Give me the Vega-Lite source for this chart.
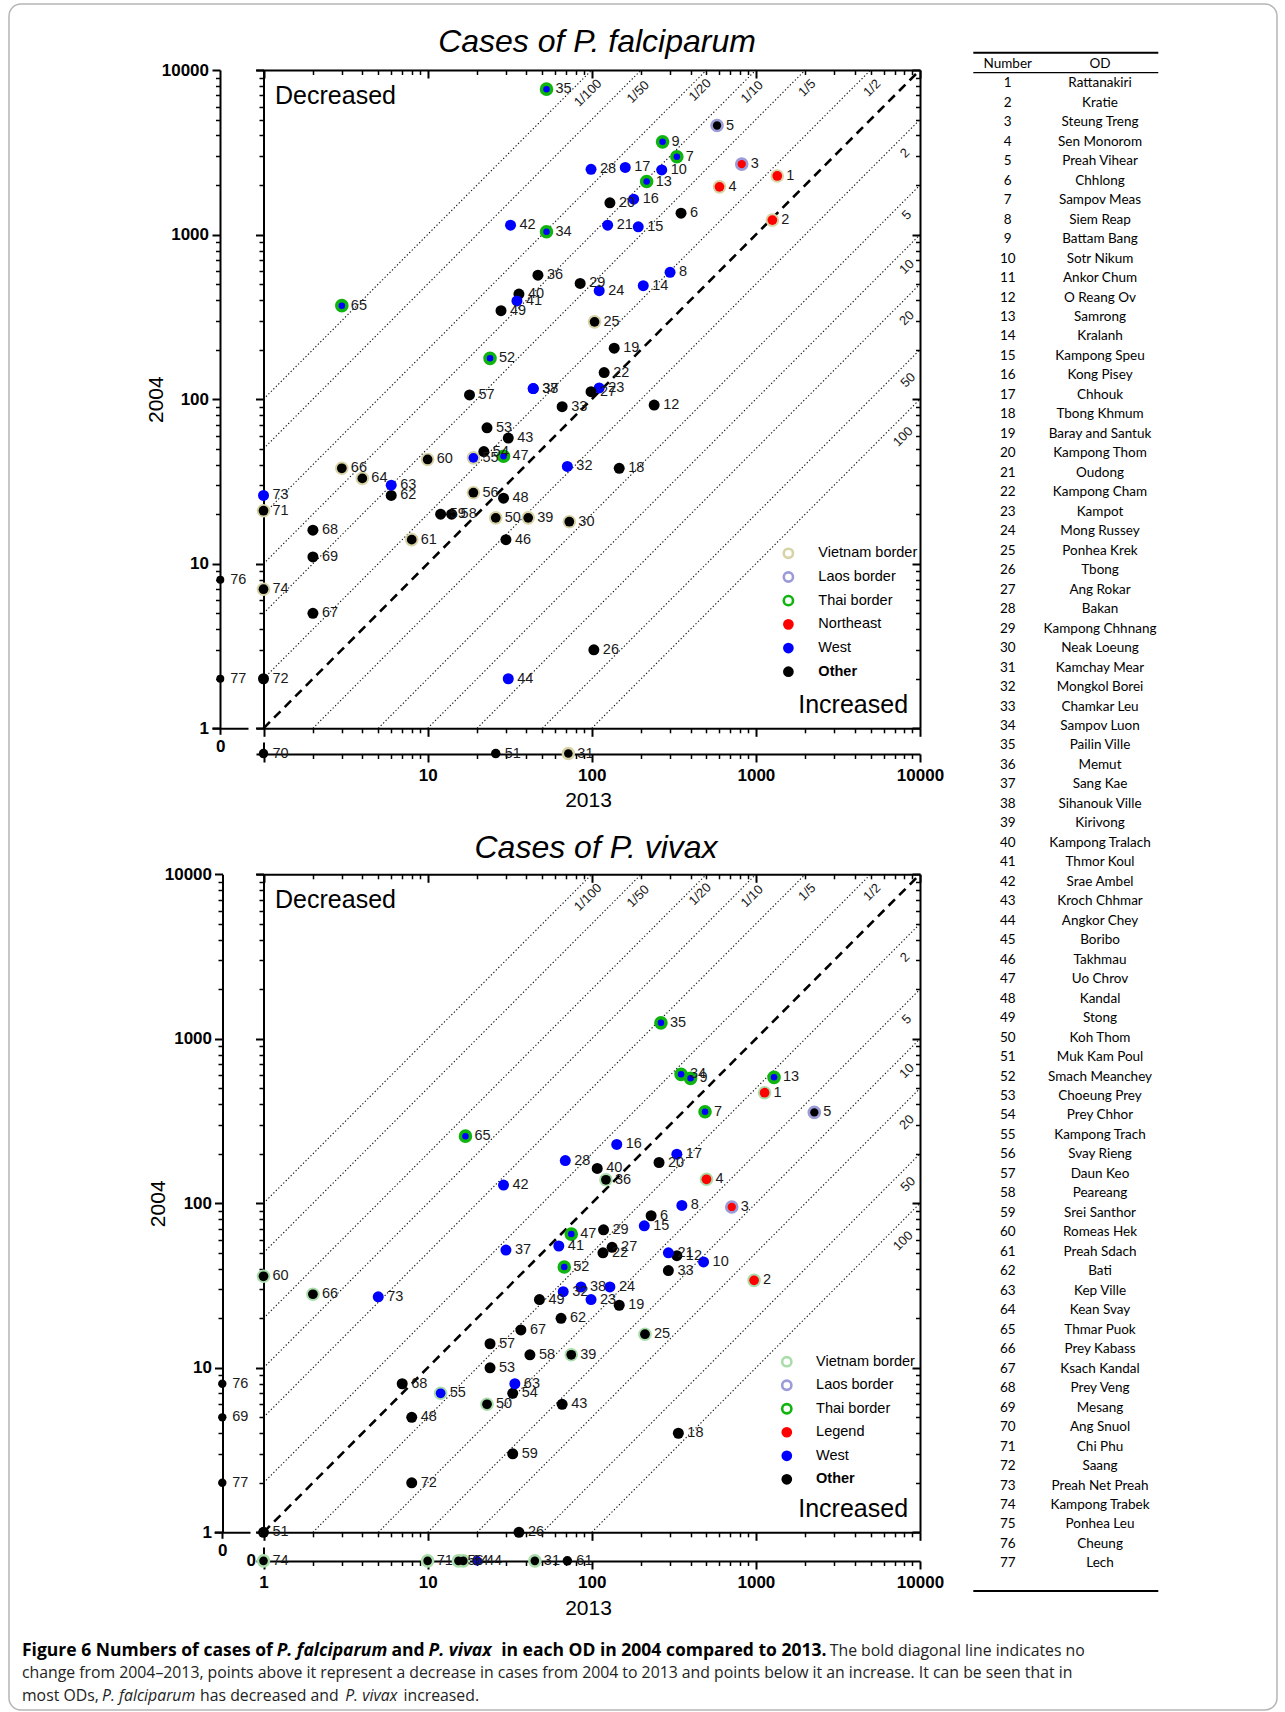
{
"$schema": "https://vega.github.io/schema/vega-lite/v6.json",
"width": 1268, "height": 1706,
"autosize": {"type": "none"},
"padding": {"left": 9, "top": 4, "right": 8, "bottom": 2},
"background": "white",
"config": {
  "view": {"stroke": "#b5b5b5", "strokeWidth": 1.5, "cornerRadius": 12},
  "font": "Liberation Sans",
  "axis": {"domainColor": "#000", "tickColor": "#000", "labelColor": "#000", "titleColor": "#000", "grid": false, "domainWidth": 2, "tickWidth": 2, "labelFont": "Liberation Sans", "labelFontSize": 17, "labelFontWeight": "bold", "titleFont": "Liberation Sans", "titleFontSize": 21, "titleFontWeight": "normal", "labelFlush": false, "labelOverlap": false, "labels": false, "tickSize": 8}
},
"resolve": {"scale": {"x": "independent", "y": "independent", "color": "independent", "size": "independent"}, "axis": {"x": "independent", "y": "independent"}},
"datasets": {
  "pf": [
    {"id":1,"c2013":1350,"c2004":2270,"group":"Northeast","border":"Vietnam border"},
    {"id":2,"c2013":1260,"c2004":1225,"group":"Northeast","border":"Vietnam border"},
    {"id":3,"c2013":820,"c2004":2680,"group":"Northeast","border":"Laos border"},
    {"id":4,"c2013":600,"c2004":1950,"group":"Northeast","border":"Vietnam border"},
    {"id":5,"c2013":580,"c2004":4600,"group":"Other","border":"Laos border"},
    {"id":6,"c2013":350,"c2004":1350,"group":"Other","border":"none"},
    {"id":7,"c2013":330,"c2004":2970,"group":"West","border":"Thai border"},
    {"id":8,"c2013":300,"c2004":590,"group":"West","border":"none"},
    {"id":9,"c2013":270,"c2004":3660,"group":"West","border":"Thai border"},
    {"id":10,"c2013":267,"c2004":2470,"group":"West","border":"none"},
    {"id":12,"c2013":240,"c2004":92,"group":"Other","border":"none"},
    {"id":13,"c2013":216,"c2004":2100,"group":"West","border":"Thai border"},
    {"id":14,"c2013":206,"c2004":489,"group":"West","border":"none"},
    {"id":15,"c2013":192,"c2004":1115,"group":"West","border":"none"},
    {"id":16,"c2013":180,"c2004":1640,"group":"West","border":"none"},
    {"id":17,"c2013":160,"c2004":2560,"group":"West","border":"none"},
    {"id":18,"c2013":147,"c2004":38,"group":"Other","border":"none"},
    {"id":19,"c2013":137,"c2004":204,"group":"Other","border":"none"},
    {"id":20,"c2013":129,"c2004":1560,"group":"Other","border":"none"},
    {"id":21,"c2013":125,"c2004":1140,"group":"West","border":"none"},
    {"id":22,"c2013":119,"c2004":145,"group":"Other","border":"none"},
    {"id":23,"c2013":111,"c2004":117,"group":"West","border":"none"},
    {"id":24,"c2013":111,"c2004":456,"group":"West","border":"none"},
    {"id":25,"c2013":104,"c2004":295,"group":"Other","border":"Vietnam border"},
    {"id":26,"c2013":103,"c2004":3,"group":"Other","border":"none"},
    {"id":27,"c2013":99,"c2004":111,"group":"Other","border":"none"},
    {"id":28,"c2013":99,"c2004":2490,"group":"West","border":"none"},
    {"id":29,"c2013":85,"c2004":505,"group":"Other","border":"none"},
    {"id":30,"c2013":73,"c2004":18,"group":"Other","border":"Vietnam border"},
    {"id":31,"c2013":72,"c2004":0,"group":"Other","border":"Vietnam border"},
    {"id":32,"c2013":71,"c2004":39,"group":"West","border":"none"},
    {"id":33,"c2013":66,"c2004":90,"group":"Other","border":"none"},
    {"id":34,"c2013":53,"c2004":1040,"group":"West","border":"Thai border"},
    {"id":35,"c2013":53,"c2004":7650,"group":"West","border":"Thai border"},
    {"id":36,"c2013":47,"c2004":567,"group":"Other","border":"none"},
    {"id":37,"c2013":44,"c2004":116,"group":"West","border":"none"},
    {"id":38,"c2013":44,"c2004":116,"group":"West","border":"none"},
    {"id":39,"c2013":41,"c2004":19,"group":"Other","border":"Vietnam border"},
    {"id":40,"c2013":36,"c2004":435,"group":"Other","border":"none"},
    {"id":41,"c2013":35,"c2004":395,"group":"West","border":"none"},
    {"id":42,"c2013":32,"c2004":1140,"group":"West","border":"none"},
    {"id":43,"c2013":31,"c2004":58,"group":"Other","border":"none"},
    {"id":44,"c2013":31,"c2004":2,"group":"West","border":"none"},
    {"id":46,"c2013":30,"c2004":14,"group":"Other","border":"none"},
    {"id":47,"c2013":29,"c2004":45,"group":"West","border":"Thai border"},
    {"id":48,"c2013":29,"c2004":25,"group":"Other","border":"none"},
    {"id":49,"c2013":28,"c2004":345,"group":"Other","border":"none"},
    {"id":50,"c2013":26,"c2004":19,"group":"Other","border":"Vietnam border"},
    {"id":51,"c2013":26,"c2004":0,"group":"Other","border":"none"},
    {"id":52,"c2013":24,"c2004":177,"group":"West","border":"Thai border"},
    {"id":53,"c2013":23,"c2004":67,"group":"Other","border":"none"},
    {"id":54,"c2013":22,"c2004":48,"group":"Other","border":"none"},
    {"id":55,"c2013":19,"c2004":44,"group":"West","border":"Vietnam border"},
    {"id":56,"c2013":19,"c2004":27,"group":"Other","border":"Vietnam border"},
    {"id":57,"c2013":18,"c2004":106,"group":"Other","border":"none"},
    {"id":58,"c2013":14,"c2004":20,"group":"Other","border":"none"},
    {"id":59,"c2013":12,"c2004":20,"group":"Other","border":"none"},
    {"id":60,"c2013":10,"c2004":43,"group":"Other","border":"Vietnam border"},
    {"id":61,"c2013":8,"c2004":14,"group":"Other","border":"Vietnam border"},
    {"id":62,"c2013":6,"c2004":26,"group":"Other","border":"none"},
    {"id":63,"c2013":6,"c2004":30,"group":"West","border":"none"},
    {"id":64,"c2013":4,"c2004":33,"group":"Other","border":"Vietnam border"},
    {"id":65,"c2013":3,"c2004":370,"group":"West","border":"Thai border"},
    {"id":66,"c2013":3,"c2004":38,"group":"Other","border":"Vietnam border"},
    {"id":67,"c2013":2,"c2004":5,"group":"Other","border":"none"},
    {"id":68,"c2013":2,"c2004":16,"group":"Other","border":"none"},
    {"id":69,"c2013":2,"c2004":11,"group":"Other","border":"none"},
    {"id":70,"c2013":1,"c2004":0,"group":"Other","border":"none"},
    {"id":71,"c2013":1,"c2004":21,"group":"Other","border":"Vietnam border"},
    {"id":72,"c2013":1,"c2004":2,"group":"Other","border":"none"},
    {"id":73,"c2013":1,"c2004":26,"group":"West","border":"none"},
    {"id":74,"c2013":1,"c2004":7,"group":"Other","border":"Vietnam border"},
    {"id":76,"c2013":0,"c2004":8,"group":"Other","border":"none"},
    {"id":77,"c2013":0,"c2004":2,"group":"Other","border":"none"}
  ],
  "pv": [
    {"id":1,"c2013":1130,"c2004":470,"group":"Northeast","border":"Vietnam border"},
    {"id":2,"c2013":975,"c2004":34,"group":"Northeast","border":"Vietnam border"},
    {"id":3,"c2013":713,"c2004":95,"group":"Northeast","border":"Laos border"},
    {"id":4,"c2013":500,"c2004":140,"group":"Northeast","border":"Vietnam border"},
    {"id":5,"c2013":2270,"c2004":357,"group":"Other","border":"Laos border"},
    {"id":6,"c2013":230,"c2004":84,"group":"Other","border":"none"},
    {"id":7,"c2013":490,"c2004":360,"group":"West","border":"Thai border"},
    {"id":8,"c2013":354,"c2004":97,"group":"West","border":"none"},
    {"id":9,"c2013":400,"c2004":575,"group":"West","border":"Thai border"},
    {"id":10,"c2013":480,"c2004":44,"group":"West","border":"none"},
    {"id":12,"c2013":330,"c2004":48,"group":"Other","border":"none"},
    {"id":13,"c2013":1290,"c2004":583,"group":"West","border":"Thai border"},
    {"id":15,"c2013":209,"c2004":73,"group":"West","border":"none"},
    {"id":16,"c2013":142,"c2004":228,"group":"West","border":"none"},
    {"id":17,"c2013":330,"c2004":199,"group":"West","border":"none"},
    {"id":18,"c2013":337,"c2004":4,"group":"Other","border":"none"},
    {"id":19,"c2013":147,"c2004":24,"group":"Other","border":"none"},
    {"id":20,"c2013":257,"c2004":177,"group":"Other","border":"none"},
    {"id":21,"c2013":293,"c2004":50,"group":"West","border":"none"},
    {"id":22,"c2013":117,"c2004":50,"group":"Other","border":"none"},
    {"id":23,"c2013":99,"c2004":26,"group":"West","border":"none"},
    {"id":24,"c2013":129,"c2004":31,"group":"West","border":"none"},
    {"id":25,"c2013":211,"c2004":16,"group":"Other","border":"Vietnam border"},
    {"id":26,"c2013":36,"c2004":1,"group":"Other","border":"none"},
    {"id":27,"c2013":133,"c2004":54,"group":"Other","border":"none"},
    {"id":28,"c2013":69,"c2004":182,"group":"West","border":"none"},
    {"id":29,"c2013":118,"c2004":69,"group":"Other","border":"none"},
    {"id":31,"c2013":45,"c2004":0,"group":"Other","border":"Vietnam border"},
    {"id":32,"c2013":67,"c2004":29,"group":"West","border":"none"},
    {"id":33,"c2013":293,"c2004":39,"group":"Other","border":"none"},
    {"id":34,"c2013":350,"c2004":608,"group":"West","border":"Thai border"},
    {"id":35,"c2013":264,"c2004":1250,"group":"West","border":"Thai border"},
    {"id":36,"c2013":122,"c2004":139,"group":"Other","border":"Vietnam border"},
    {"id":37,"c2013":30,"c2004":52,"group":"West","border":"none"},
    {"id":38,"c2013":86,"c2004":31,"group":"West","border":"none"},
    {"id":39,"c2013":75,"c2004":12,"group":"Other","border":"Vietnam border"},
    {"id":40,"c2013":108,"c2004":163,"group":"Other","border":"none"},
    {"id":41,"c2013":63,"c2004":55,"group":"West","border":"none"},
    {"id":42,"c2013":29,"c2004":129,"group":"West","border":"none"},
    {"id":43,"c2013":66,"c2004":6,"group":"Other","border":"none"},
    {"id":44,"c2013":20,"c2004":0,"group":"West","border":"none"},
    {"id":47,"c2013":75,"c2004":65,"group":"West","border":"Thai border"},
    {"id":48,"c2013":8,"c2004":5,"group":"Other","border":"none"},
    {"id":49,"c2013":48,"c2004":26,"group":"Other","border":"none"},
    {"id":50,"c2013":23,"c2004":6,"group":"Other","border":"Vietnam border"},
    {"id":51,"c2013":1,"c2004":1,"group":"Other","border":"none"},
    {"id":52,"c2013":68,"c2004":41,"group":"West","border":"Thai border"},
    {"id":53,"c2013":24,"c2004":10,"group":"Other","border":"none"},
    {"id":54,"c2013":33,"c2004":7,"group":"Other","border":"none"},
    {"id":55,"c2013":12,"c2004":7,"group":"West","border":"Vietnam border"},
    {"id":56,"c2013":15.4,"c2004":0,"group":"Other","border":"Vietnam border"},
    {"id":57,"c2013":24,"c2004":14,"group":"Other","border":"none"},
    {"id":58,"c2013":42,"c2004":12,"group":"Other","border":"none"},
    {"id":59,"c2013":33,"c2004":3,"group":"Other","border":"none"},
    {"id":60,"c2013":1,"c2004":36,"group":"Other","border":"Vietnam border"},
    {"id":61,"c2013":71,"c2004":0,"group":"Other","border":"none"},
    {"id":62,"c2013":65,"c2004":20,"group":"Other","border":"none"},
    {"id":63,"c2013":34,"c2004":8,"group":"West","border":"none"},
    {"id":64,"c2013":16.5,"c2004":0,"group":"Other","border":"Vietnam border"},
    {"id":65,"c2013":17,"c2004":256,"group":"West","border":"Thai border"},
    {"id":66,"c2013":2,"c2004":28,"group":"Other","border":"Vietnam border"},
    {"id":67,"c2013":37,"c2004":17,"group":"Other","border":"none"},
    {"id":68,"c2013":7,"c2004":8,"group":"Other","border":"none"},
    {"id":69,"c2013":0,"c2004":5,"group":"Other","border":"none"},
    {"id":71,"c2013":10,"c2004":0,"group":"Other","border":"Vietnam border"},
    {"id":72,"c2013":8,"c2004":2,"group":"Other","border":"none"},
    {"id":73,"c2013":5,"c2004":27,"group":"West","border":"none"},
    {"id":74,"c2013":1,"c2004":0,"group":"Other","border":"Vietnam border"},
    {"id":76,"c2013":0,"c2004":8,"group":"Other","border":"none"},
    {"id":77,"c2013":0,"c2004":2,"group":"Other","border":"none"}
  ],
  "ratios": [
    {"k":"100","x1":1,"y1":100,"x2":100,"y2":10000},
    {"k":"50","x1":1,"y1":50,"x2":200,"y2":10000},
    {"k":"20","x1":1,"y1":20,"x2":500,"y2":10000},
    {"k":"10","x1":1,"y1":10,"x2":1000,"y2":10000},
    {"k":"5","x1":1,"y1":5,"x2":2000,"y2":10000},
    {"k":"2","x1":1,"y1":2,"x2":5000,"y2":10000},
    {"k":"1/2","x1":2,"y1":1,"x2":10000,"y2":5000},
    {"k":"1/5","x1":5,"y1":1,"x2":10000,"y2":2000},
    {"k":"1/10","x1":10,"y1":1,"x2":10000,"y2":1000},
    {"k":"1/20","x1":20,"y1":1,"x2":10000,"y2":500},
    {"k":"1/50","x1":50,"y1":1,"x2":10000,"y2":200},
    {"k":"1/100","x1":100,"y1":1,"x2":10000,"y2":100}
  ],
  "rlabels": [
    {"t":"1/100","x":94.9,"y":7244},
    {"t":"1/50","x":191.6,"y":7350},
    {"t":"1/20","x":457,"y":7555},
    {"t":"1/10","x":948,"y":7350},
    {"t":"1/5","x":2052,"y":7770},
    {"t":"1/2","x":5108,"y":7770},
    {"t":"2","x":8110,"y":3126},
    {"t":"5","x":8310,"y":1312},
    {"t":"10","x":8310,"y":637},
    {"t":"20","x":8310,"y":311},
    {"t":"50","x":8463,"y":130.6},
    {"t":"100","x":7886,"y":59.1}
  ],
  "legT": [
    {"label":"Vietnam border","kind":"ring"},
    {"label":"Laos border","kind":"ring"},
    {"label":"Thai border","kind":"ring"},
    {"label":"Northeast","kind":"fill"},
    {"label":"West","kind":"fill"},
    {"label":"Other","kind":"fill"}
  ],
  "legB": [
    {"label":"Vietnam border","kind":"ring"},
    {"label":"Laos border","kind":"ring"},
    {"label":"Thai border","kind":"ring"},
    {"label":"Legend","kind":"fill"},
    {"label":"West","kind":"fill"},
    {"label":"Other","kind":"fill"}
  ],
  "od": [
    {"n":1,"name":"Rattanakiri"},{"n":2,"name":"Kratie"},{"n":3,"name":"Steung Treng"},{"n":4,"name":"Sen Monorom"},
    {"n":5,"name":"Preah Vihear"},{"n":6,"name":"Chhlong"},{"n":7,"name":"Sampov Meas"},{"n":8,"name":"Siem Reap"},
    {"n":9,"name":"Battam Bang"},{"n":10,"name":"Sotr Nikum"},{"n":11,"name":"Ankor Chum"},{"n":12,"name":"O Reang Ov"},
    {"n":13,"name":"Samrong"},{"n":14,"name":"Kralanh"},{"n":15,"name":"Kampong Speu"},{"n":16,"name":"Kong Pisey"},
    {"n":17,"name":"Chhouk"},{"n":18,"name":"Tbong Khmum"},{"n":19,"name":"Baray and Santuk"},{"n":20,"name":"Kampong Thom"},
    {"n":21,"name":"Oudong"},{"n":22,"name":"Kampong Cham"},{"n":23,"name":"Kampot"},{"n":24,"name":"Mong Russey"},
    {"n":25,"name":"Ponhea Krek"},{"n":26,"name":"Tbong"},{"n":27,"name":"Ang Rokar"},{"n":28,"name":"Bakan"},
    {"n":29,"name":"Kampong Chhnang"},{"n":30,"name":"Neak Loeung"},{"n":31,"name":"Kamchay Mear"},{"n":32,"name":"Mongkol Borei"},
    {"n":33,"name":"Chamkar Leu"},{"n":34,"name":"Sampov Luon"},{"n":35,"name":"Pailin Ville"},{"n":36,"name":"Memut"},
    {"n":37,"name":"Sang Kae"},{"n":38,"name":"Sihanouk Ville"},{"n":39,"name":"Kirivong"},{"n":40,"name":"Kampong Tralach"},
    {"n":41,"name":"Thmor Koul"},{"n":42,"name":"Srae Ambel"},{"n":43,"name":"Kroch Chhmar"},{"n":44,"name":"Angkor Chey"},
    {"n":45,"name":"Boribo"},{"n":46,"name":"Takhmau"},{"n":47,"name":"Uo Chrov"},{"n":48,"name":"Kandal"},
    {"n":49,"name":"Stong"},{"n":50,"name":"Koh Thom"},{"n":51,"name":"Muk Kam Poul"},{"n":52,"name":"Smach Meanchey"},
    {"n":53,"name":"Choeung Prey"},{"n":54,"name":"Prey Chhor"},{"n":55,"name":"Kampong Trach"},{"n":56,"name":"Svay Rieng"},
    {"n":57,"name":"Daun Keo"},{"n":58,"name":"Peareang"},{"n":59,"name":"Srei Santhor"},{"n":60,"name":"Romeas Hek"},
    {"n":61,"name":"Preah Sdach"},{"n":62,"name":"Bati"},{"n":63,"name":"Kep Ville"},{"n":64,"name":"Kean Svay"},
    {"n":65,"name":"Thmar Puok"},{"n":66,"name":"Prey Kabass"},{"n":67,"name":"Ksach Kandal"},{"n":68,"name":"Prey Veng"},
    {"n":69,"name":"Mesang"},{"n":70,"name":"Ang Snuol"},{"n":71,"name":"Chi Phu"},{"n":72,"name":"Saang"},
    {"n":73,"name":"Preah Net Preah"},{"n":74,"name":"Kampong Trabek"},{"n":75,"name":"Ponhea Leu"},{"n":76,"name":"Cheung"},
    {"n":77,"name":"Lech"}
  ],
  "capBold": [
    {"t":"Figure 6 Numbers of cases of","col":0,"line":1},
    {"t":"and","col":41.94,"line":1},
    {"t":"in each OD in 2004 compared to 2013.","col":54.4,"line":1}
  ],
  "capBoldItalic": [
    {"t":"P. falciparum","col":28.91,"line":1},
    {"t":"P. vivax","col":46.15,"line":1}
  ],
  "capNormal": [
    {"t":"The bold diagonal line indicates no","col":91.7,"line":1},
    {"t":"change from 2004–2013, points above it represent a decrease in cases from 2004 to 2013 and points below it an increase. It can be seen that in","col":0,"line":2},
    {"t":"most ODs,","col":0,"line":3},
    {"t":"has decreased and","col":20.22,"line":3},
    {"t":"increased.","col":43.31,"line":3}
  ],
  "capItalic": [
    {"t":"P. falciparum","col":9.09,"line":3},
    {"t":"P. vivax","col":36.69,"line":3}
  ]
},
"layer": [
  {"data":{"name":"ratios"},"mark":{"type":"rule","strokeDash":[1.3,2.2],"strokeWidth":1.1,"color":"#111"},
   "encoding":{
     "x":{"field":"x1","type":"quantitative","scale":{"type":"log","domain":[0.9,10000],"range":[247,911],"nice":false},"axis":{"orient":"bottom","offset":-1640,"values":[1,10,100,1000,10000],"title":null}},
     "y":{"field":"y1","type":"quantitative","scale":{"type":"log","domain":[1,10000],"range":[724.3,66],"nice":false},"axis":{"orient":"left","offset":-911,"values":[1,10,100,1000,10000],"title":null}},
     "x2":{"field":"x2"},"y2":{"field":"y2"}}},
  {"data":{"values":[{"x1":1,"y1":1,"x2":10000,"y2":10000}]},"mark":{"type":"rule","strokeDash":[9,6],"strokeWidth":2.6,"color":"#000"},
   "encoding":{
     "x":{"field":"x1","type":"quantitative","scale":{"type":"log","domain":[0.9,10000],"range":[247,911],"nice":false},"axis":{"orient":"bottom","offset":-1640,"values":[2,3,4,5,6,7,8,9,20,30,40,50,60,70,80,90,200,300,400,500,600,700,800,900,2000,3000,4000,5000,6000,7000,8000,9000],"tickSize":4.5,"tickWidth":1.5,"domain":false,"title":null}},
     "y":{"field":"y1","type":"quantitative","scale":{"type":"log","domain":[1,10000],"range":[724.3,66],"nice":false},"axis":{"orient":"left","offset":-911,"values":[2,3,4,5,6,7,8,9,20,30,40,50,60,70,80,90,200,300,400,500,600,700,800,900,2000,3000,4000,5000,6000,7000,8000,9000],"tickSize":4.5,"tickWidth":1.5,"domain":false,"title":null}},
     "x2":{"field":"x2"},"y2":{"field":"y2"}}},
  {"data":{"name":"pf"},"transform":[{"filter":"datum.c2013 > 0 && datum.c2004 > 0 && datum.border != 'none'"}],
   "mark":{"type":"point","filled":true,"size":185,"opacity":1,"strokeWidth":0},
   "encoding":{
     "x":{"field":"c2013","type":"quantitative","scale":{"type":"log","domain":[0.9,10000],"range":[247,911],"nice":false},"axis":{"orient":"bottom","offset":-981.7,"values":[1,10,100,1000,10000],"title":null}},
     "y":{"field":"c2004","type":"quantitative","scale":{"type":"log","domain":[1,10000],"range":[724.3,66],"nice":false},"axis":{"orient":"left","offset":-254.5,"values":[1,10,100,1000,10000],"title":null}},
     "color":{"field":"border","type":"nominal","scale":{"domain":["Vietnam border","Laos border","Thai border"],"range":["#d7d3a6","#9b9bd8","#0fb40f"]},"legend":null}}},
  {"data":{"name":"pf"},"transform":[{"filter":"datum.c2013 > 0 && datum.c2004 > 0"}],
   "mark":{"type":"point","filled":true,"opacity":1,"strokeWidth":0},
   "encoding":{
     "x":{"field":"c2013","type":"quantitative","scale":{"type":"log","domain":[0.9,10000],"range":[247,911],"nice":false},"axis":{"orient":"bottom","offset":-981.7,"values":[2,3,4,5,6,7,8,9,20,30,40,50,60,70,80,90,200,300,400,500,600,700,800,900,2000,3000,4000,5000,6000,7000,8000,9000],"tickSize":4.5,"tickWidth":1.5,"domain":false,"title":null}},
     "y":{"field":"c2004","type":"quantitative","scale":{"type":"log","domain":[1,10000],"range":[724.3,66],"nice":false},"axis":{"orient":"left","offset":-254.5,"values":[2,3,4,5,6,7,8,9,20,30,40,50,60,70,80,90,200,300,400,500,600,700,800,900,2000,3000,4000,5000,6000,7000,8000,9000],"tickSize":4.5,"tickWidth":1.5,"domain":false,"title":null}},
     "size":{"field":"border","type":"ordinal","scale":{"domain":["none","Vietnam border","Laos border","Thai border"],"range":[121,42,42,42]},"legend":null},
     "color":{"field":"group","type":"nominal","scale":{"domain":["Northeast","West","Other"],"range":["#ff0000","#0000ff","#000000"]},"legend":null}}},
  {"data":{"name":"pf"},"transform":[{"filter":"datum.c2013 > 0 && datum.c2004 > 0"}],
   "mark":{"type":"text","align":"left","baseline":"middle","dx":9,"fontSize":14.5,"color":"#1a1a1a"},
   "encoding":{
     "x":{"field":"c2013","type":"quantitative","scale":{"type":"log","domain":[0.9,10000],"range":[247,911],"nice":false},"axis":{"orient":"bottom","offset":-956,"values":[2,3,4,5,6,7,8,9,20,30,40,50,60,70,80,90,200,300,400,500,600,700,800,900,2000,3000,4000,5000,6000,7000,8000,9000],"tickSize":4.5,"tickWidth":1.5,"domain":false,"title":null}},
     "y":{"field":"c2004","type":"quantitative","scale":{"type":"log","domain":[1,10000],"range":[724.3,66],"nice":false},"axis":{"orient":"left","offset":-211,"values":[2,3,4,5,6,7,8,9,20,30,40,50,60,70,80,90,200,300,400,500,600,700,800,900,2000,3000,4000,5000,6000,7000,8000,9000],"tickSize":4.5,"tickWidth":1.5,"domain":false,"title":null}},
     "text":{"field":"id","type":"nominal"}}},
  {"data":{"name":"pf"},"transform":[{"filter":"datum.c2013 == 0"}],
   "mark":{"type":"point","filled":true,"size":64,"opacity":1,"strokeWidth":0},
   "encoding":{
     "x":{"field":"c2013","type":"quantitative","scale":{"type":"linear","domain":[-0.3,1],"range":[203,239],"nice":false,"zero":false},"axis":{"orient":"bottom","offset":-981.7,"values":[0],"tickSize":6,"labels":true,"labelPadding":4,"title":null}},
     "y":{"field":"c2004","type":"quantitative","scale":{"type":"log","domain":[1,10000],"range":[724.3,66],"nice":false},"axis":{"orient":"left","offset":-211,"values":[1,10,100,1000,10000],"labels":true,"format":"d","labelPadding":3.5,"title":"2004","titleX":-54}},
     "color":{"field":"group","type":"nominal","scale":{"domain":["Northeast","West","Other"],"range":["#ff0000","#0000ff","#000000"]},"legend":null}}},
  {"data":{"name":"pf"},"transform":[{"filter":"datum.c2013 == 0"}],
   "mark":{"type":"text","align":"left","baseline":"middle","dx":10,"fontSize":14.5,"color":"#1a1a1a"},
   "encoding":{
     "x":{"field":"c2013","type":"quantitative","scale":{"type":"linear","domain":[-0.3,1],"range":[203,239],"nice":false,"zero":false},"axis":null},
     "y":{"field":"c2004","type":"quantitative","scale":{"type":"log","domain":[1,10000],"range":[724.3,66],"nice":false},"axis":null},
     "text":{"field":"id","type":"nominal"}}},
  {"data":{"name":"pf"},"transform":[{"filter":"datum.c2004 == 0 && datum.c2013 > 0 && datum.border != 'none'"}],
   "mark":{"type":"point","filled":true,"size":185,"opacity":1,"strokeWidth":0},
   "encoding":{
     "x":{"field":"c2013","type":"quantitative","scale":{"type":"log","domain":[0.9,10000],"range":[247,911],"nice":false},"axis":{"orient":"bottom","offset":-956,"values":[1,10,100,1000,10000],"labels":true,"format":"d","labelPadding":5,"labelExpr":"datum.value == 1 ? '' : datum.label","title":"2013","titleY":35}},
     "y":{"field":"c2004","type":"quantitative","scale":{"type":"linear","domain":[-0.3,1],"range":[753,738],"nice":false,"zero":false},"axis":{"orient":"left","offset":-254.5,"values":[0],"tickSize":4,"title":null}},
     "color":{"field":"border","type":"nominal","scale":{"domain":["Vietnam border","Laos border","Thai border"],"range":["#d7d3a6","#9b9bd8","#0fb40f"]},"legend":null}}},
  {"data":{"name":"pf"},"transform":[{"filter":"datum.c2004 == 0 && datum.c2013 > 0"}],
   "mark":{"type":"point","filled":true,"opacity":1,"strokeWidth":0},
   "encoding":{
     "x":{"field":"c2013","type":"quantitative","scale":{"type":"log","domain":[0.9,10000],"range":[247,911],"nice":false},"axis":null},
     "y":{"field":"c2004","type":"quantitative","scale":{"type":"linear","domain":[-0.3,1],"range":[753,738],"nice":false,"zero":false},"axis":null},
     "size":{"field":"border","type":"ordinal","scale":{"domain":["none","Vietnam border","Laos border","Thai border"],"range":[90,42,42,42]},"legend":null},
     "color":{"field":"group","type":"nominal","scale":{"domain":["Northeast","West","Other"],"range":["#ff0000","#0000ff","#000000"]},"legend":null}}},
  {"data":{"name":"pf"},"transform":[{"filter":"datum.c2004 == 0 && datum.c2013 > 0"}],
   "mark":{"type":"text","align":"left","baseline":"middle","dx":9,"fontSize":14.5,"color":"#1a1a1a"},
   "encoding":{
     "x":{"field":"c2013","type":"quantitative","scale":{"type":"log","domain":[0.9,10000],"range":[247,911],"nice":false},"axis":null},
     "y":{"field":"c2004","type":"quantitative","scale":{"type":"linear","domain":[-0.3,1],"range":[753,738],"nice":false,"zero":false},"axis":null},
     "text":{"field":"id","type":"nominal"}}},
  {"data":{"name":"rlabels"},"mark":{"type":"text","angle":-45,"align":"center","baseline":"middle","fontSize":13,"color":"#1a1a1a"},
   "encoding":{
     "x":{"field":"x","type":"quantitative","scale":{"type":"log","domain":[0.9,10000],"range":[247,911],"nice":false},"axis":null},
     "y":{"field":"y","type":"quantitative","scale":{"type":"log","domain":[1,10000],"range":[724.3,66],"nice":false},"axis":null},
     "text":{"field":"t","type":"nominal"}}},
  {"data":{"values":[{}]},"mark":{"type":"text","text":"Decreased","align":"left","baseline":"alphabetic","fontSize":25,"color":"#000"},
   "encoding":{
     "x":{"datum":1.176,"type":"quantitative","scale":{"type":"log","domain":[0.9,10000],"range":[247,911],"nice":false},"axis":null},
     "y":{"datum":6208,"type":"quantitative","scale":{"type":"log","domain":[1,10000],"range":[724.3,66],"nice":false},"axis":null}}},
  {"data":{"values":[{}]},"mark":{"type":"text","text":"Increased","align":"right","baseline":"alphabetic","fontSize":25,"color":"#000"},
   "encoding":{
     "x":{"datum":8458,"type":"quantitative","scale":{"type":"log","domain":[0.9,10000],"range":[247,911],"nice":false},"axis":null},
     "y":{"datum":1.239,"type":"quantitative","scale":{"type":"log","domain":[1,10000],"range":[724.3,66],"nice":false},"axis":null}}},
  {"data":{"values":[{}]},"mark":{"type":"text","text":"Cases of P. falciparum","align":"center","baseline":"middle","fontSize":32,"fontStyle":"italic","color":"#000"},
   "encoding":{
     "x":{"datum":107.7,"type":"quantitative","scale":{"type":"log","domain":[0.9,10000],"range":[247,911],"nice":false},"axis":null},
     "y":{"datum":14877,"type":"quantitative","scale":{"type":"log","domain":[1,10000],"range":[724.3,66],"nice":false},"axis":null}}},
  {"data":{"name":"legT"},"transform":[{"filter":"datum.kind == 'ring'"}],
   "mark":{"type":"point","filled":false,"size":85,"strokeWidth":2.6,"opacity":1},
   "encoding":{
     "x":{"datum":1578,"type":"quantitative","scale":{"type":"log","domain":[0.9,10000],"range":[247,911],"nice":false},"axis":null},
     "y":{"field":"label","type":"nominal","scale":{"type":"point","domain":["Vietnam border","Laos border","Thai border","Northeast","West","Other"],"range":[549.3,667.7],"padding":0},"axis":null},
     "color":{"field":"label","type":"nominal","scale":{"domain":["Vietnam border","Laos border","Thai border"],"range":["#d7d3a6","#9b9bd8","#0fb40f"]},"legend":null}}},
  {"data":{"name":"legT"},"transform":[{"filter":"datum.kind == 'fill'"}],
   "mark":{"type":"point","filled":true,"size":115,"strokeWidth":0,"opacity":1},
   "encoding":{
     "x":{"datum":1578,"type":"quantitative","scale":{"type":"log","domain":[0.9,10000],"range":[247,911],"nice":false},"axis":null},
     "y":{"field":"label","type":"nominal","scale":{"type":"point","domain":["Vietnam border","Laos border","Thai border","Northeast","West","Other"],"range":[549.3,667.7],"padding":0},"axis":null},
     "color":{"field":"label","type":"nominal","scale":{"domain":["Northeast","West","Other"],"range":["#ff0000","#0000ff","#000000"]},"legend":null}}},
  {"data":{"name":"legT"},"transform":[{"filter":"datum.label != 'Other'"}],
   "mark":{"type":"text","align":"left","baseline":"middle","fontSize":14.5,"color":"#000"},
   "encoding":{
     "x":{"datum":2403,"type":"quantitative","scale":{"type":"log","domain":[0.9,10000],"range":[247,911],"nice":false},"axis":null},
     "y":{"field":"label","type":"nominal","scale":{"type":"point","domain":["Vietnam border","Laos border","Thai border","Northeast","West","Other"],"range":[549.3,667.7],"padding":0},"axis":null},
     "text":{"field":"label","type":"nominal"}}},
  {"data":{"name":"legT"},"transform":[{"filter":"datum.label == 'Other'"}],
   "mark":{"type":"text","align":"left","baseline":"middle","fontSize":14.5,"fontWeight":"bold","color":"#000"},
   "encoding":{
     "x":{"datum":2403,"type":"quantitative","scale":{"type":"log","domain":[0.9,10000],"range":[247,911],"nice":false},"axis":null},
     "y":{"field":"label","type":"nominal","scale":{"type":"point","domain":["Vietnam border","Laos border","Thai border","Northeast","West","Other"],"range":[549.3,667.7],"padding":0},"axis":null},
     "text":{"field":"label","type":"nominal"}}},

  {"data":{"name":"ratios"},"mark":{"type":"rule","strokeDash":[1.3,2.2],"strokeWidth":1.1,"color":"#111"},
   "encoding":{
     "x":{"field":"x1","type":"quantitative","scale":{"type":"log","domain":[0.9,10000],"range":[247,911],"nice":false},"axis":{"orient":"bottom","offset":-835.7,"values":[1,10,100,1000,10000],"title":null}},
     "y":{"field":"y1","type":"quantitative","scale":{"type":"log","domain":[1,10000],"range":[1528.3,870.3],"nice":false},"axis":{"orient":"left","offset":-911,"values":[1,10,100,1000,10000],"title":null}},
     "x2":{"field":"x2"},"y2":{"field":"y2"}}},
  {"data":{"values":[{"x1":1,"y1":1,"x2":10000,"y2":10000}]},"mark":{"type":"rule","strokeDash":[9,6],"strokeWidth":2.6,"color":"#000"},
   "encoding":{
     "x":{"field":"x1","type":"quantitative","scale":{"type":"log","domain":[0.9,10000],"range":[247,911],"nice":false},"axis":{"orient":"bottom","offset":-835.7,"values":[2,3,4,5,6,7,8,9,20,30,40,50,60,70,80,90,200,300,400,500,600,700,800,900,2000,3000,4000,5000,6000,7000,8000,9000],"tickSize":4.5,"tickWidth":1.5,"domain":false,"title":null}},
     "y":{"field":"y1","type":"quantitative","scale":{"type":"log","domain":[1,10000],"range":[1528.3,870.3],"nice":false},"axis":{"orient":"left","offset":-911,"values":[2,3,4,5,6,7,8,9,20,30,40,50,60,70,80,90,200,300,400,500,600,700,800,900,2000,3000,4000,5000,6000,7000,8000,9000],"tickSize":4.5,"tickWidth":1.5,"domain":false,"title":null}},
     "x2":{"field":"x2"},"y2":{"field":"y2"}}},
  {"data":{"name":"pv"},"transform":[{"filter":"datum.c2013 > 0 && datum.c2004 > 0 && datum.border != 'none'"}],
   "mark":{"type":"point","filled":true,"size":185,"opacity":1,"strokeWidth":0},
   "encoding":{
     "x":{"field":"c2013","type":"quantitative","scale":{"type":"log","domain":[0.9,10000],"range":[247,911],"nice":false},"axis":{"orient":"bottom","offset":-177.7,"values":[1,10,100,1000,10000],"title":null}},
     "y":{"field":"c2004","type":"quantitative","scale":{"type":"log","domain":[1,10000],"range":[1528.3,870.3],"nice":false},"axis":{"orient":"left","offset":-254.5,"values":[1,10,100,1000,10000],"title":null}},
     "color":{"field":"border","type":"nominal","scale":{"domain":["Vietnam border","Laos border","Thai border"],"range":["#a9dda9","#9b9bd8","#0fb40f"]},"legend":null}}},
  {"data":{"name":"pv"},"transform":[{"filter":"datum.c2013 > 0 && datum.c2004 > 0"}],
   "mark":{"type":"point","filled":true,"opacity":1,"strokeWidth":0},
   "encoding":{
     "x":{"field":"c2013","type":"quantitative","scale":{"type":"log","domain":[0.9,10000],"range":[247,911],"nice":false},"axis":{"orient":"bottom","offset":-177.7,"values":[2,3,4,5,6,7,8,9,20,30,40,50,60,70,80,90,200,300,400,500,600,700,800,900,2000,3000,4000,5000,6000,7000,8000,9000],"tickSize":4.5,"tickWidth":1.5,"domain":false,"title":null}},
     "y":{"field":"c2004","type":"quantitative","scale":{"type":"log","domain":[1,10000],"range":[1528.3,870.3],"nice":false},"axis":{"orient":"left","offset":-254.5,"values":[2,3,4,5,6,7,8,9,20,30,40,50,60,70,80,90,200,300,400,500,600,700,800,900,2000,3000,4000,5000,6000,7000,8000,9000],"tickSize":4.5,"tickWidth":1.5,"domain":false,"title":null}},
     "size":{"field":"border","type":"ordinal","scale":{"domain":["none","Vietnam border","Laos border","Thai border"],"range":[121,42,42,42]},"legend":null},
     "color":{"field":"group","type":"nominal","scale":{"domain":["Northeast","West","Other"],"range":["#ff0000","#0000ff","#000000"]},"legend":null}}},
  {"data":{"name":"pv"},"transform":[{"filter":"datum.c2013 > 0 && datum.c2004 > 0"}],
   "mark":{"type":"text","align":"left","baseline":"middle","dx":9,"fontSize":14.5,"color":"#1a1a1a"},
   "encoding":{
     "x":{"field":"c2013","type":"quantitative","scale":{"type":"log","domain":[0.9,10000],"range":[247,911],"nice":false},"axis":{"orient":"bottom","offset":-149,"values":[2,3,4,5,6,7,8,9,20,30,40,50,60,70,80,90,200,300,400,500,600,700,800,900,2000,3000,4000,5000,6000,7000,8000,9000],"tickSize":4.5,"tickWidth":1.5,"domain":false,"title":null}},
     "y":{"field":"c2004","type":"quantitative","scale":{"type":"log","domain":[1,10000],"range":[1528.3,870.3],"nice":false},"axis":{"orient":"left","offset":-213.5,"values":[2,3,4,5,6,7,8,9,20,30,40,50,60,70,80,90,200,300,400,500,600,700,800,900,2000,3000,4000,5000,6000,7000,8000,9000],"tickSize":4.5,"tickWidth":1.5,"domain":false,"title":null}},
     "text":{"field":"id","type":"nominal"}}},
  {"data":{"name":"pv"},"transform":[{"filter":"datum.c2013 == 0"}],
   "mark":{"type":"point","filled":true,"size":70,"opacity":1,"strokeWidth":0},
   "encoding":{
     "x":{"field":"c2013","type":"quantitative","scale":{"type":"linear","domain":[-0.3,1],"range":[205,241],"nice":false,"zero":false},"axis":{"orient":"bottom","offset":-177.7,"values":[0],"tickSize":6,"labels":true,"labelPadding":4,"title":null}},
     "y":{"field":"c2004","type":"quantitative","scale":{"type":"log","domain":[1,10000],"range":[1528.3,870.3],"nice":false},"axis":{"orient":"left","offset":-213.5,"values":[1,10,100,1000,10000],"labels":true,"format":"d","labelPadding":3,"title":"2004","titleX":-54}},
     "color":{"field":"group","type":"nominal","scale":{"domain":["Northeast","West","Other"],"range":["#ff0000","#0000ff","#000000"]},"legend":null}}},
  {"data":{"name":"pv"},"transform":[{"filter":"datum.c2013 == 0"}],
   "mark":{"type":"text","align":"left","baseline":"middle","dx":10,"fontSize":14.5,"color":"#1a1a1a"},
   "encoding":{
     "x":{"field":"c2013","type":"quantitative","scale":{"type":"linear","domain":[-0.3,1],"range":[205,241],"nice":false,"zero":false},"axis":null},
     "y":{"field":"c2004","type":"quantitative","scale":{"type":"log","domain":[1,10000],"range":[1528.3,870.3],"nice":false},"axis":null},
     "text":{"field":"id","type":"nominal"}}},
  {"data":{"name":"pv"},"transform":[{"filter":"datum.c2004 == 0 && datum.c2013 > 0 && datum.border != 'none'"}],
   "mark":{"type":"point","filled":true,"size":185,"opacity":1,"strokeWidth":0},
   "encoding":{
     "x":{"field":"c2013","type":"quantitative","scale":{"type":"log","domain":[0.9,10000],"range":[247,911],"nice":false},"axis":{"orient":"bottom","offset":-149,"values":[1,10,100,1000,10000],"labels":true,"format":"d","labelPadding":5,"title":"2013","titleY":36}},
     "y":{"field":"c2004","type":"quantitative","scale":{"type":"linear","domain":[-0.3,1],"range":[1561,1543],"nice":false,"zero":false},"axis":{"orient":"left","offset":-254.5,"values":[0],"tickSize":4,"labels":true,"labelPadding":4,"title":null}},
     "color":{"field":"border","type":"nominal","scale":{"domain":["Vietnam border","Laos border","Thai border"],"range":["#a9dda9","#9b9bd8","#0fb40f"]},"legend":null}}},
  {"data":{"name":"pv"},"transform":[{"filter":"datum.c2004 == 0 && datum.c2013 > 0"}],
   "mark":{"type":"point","filled":true,"opacity":1,"strokeWidth":0},
   "encoding":{
     "x":{"field":"c2013","type":"quantitative","scale":{"type":"log","domain":[0.9,10000],"range":[247,911],"nice":false},"axis":null},
     "y":{"field":"c2004","type":"quantitative","scale":{"type":"linear","domain":[-0.3,1],"range":[1561,1543],"nice":false,"zero":false},"axis":null},
     "size":{"field":"border","type":"ordinal","scale":{"domain":["none","Vietnam border","Laos border","Thai border"],"range":[90,42,42,42]},"legend":null},
     "color":{"field":"group","type":"nominal","scale":{"domain":["Northeast","West","Other"],"range":["#ff0000","#0000ff","#000000"]},"legend":null}}},
  {"data":{"name":"pv"},"transform":[{"filter":"datum.c2004 == 0 && datum.c2013 > 0"}],
   "mark":{"type":"text","align":"left","baseline":"middle","dx":9,"fontSize":14.5,"color":"#1a1a1a"},
   "encoding":{
     "x":{"field":"c2013","type":"quantitative","scale":{"type":"log","domain":[0.9,10000],"range":[247,911],"nice":false},"axis":null},
     "y":{"field":"c2004","type":"quantitative","scale":{"type":"linear","domain":[-0.3,1],"range":[1561,1543],"nice":false,"zero":false},"axis":null},
     "text":{"field":"id","type":"nominal"}}},
  {"data":{"name":"rlabels"},"mark":{"type":"text","angle":-45,"align":"center","baseline":"middle","fontSize":13,"color":"#1a1a1a"},
   "encoding":{
     "x":{"field":"x","type":"quantitative","scale":{"type":"log","domain":[0.9,10000],"range":[247,911],"nice":false},"axis":null},
     "y":{"field":"y","type":"quantitative","scale":{"type":"log","domain":[1,10000],"range":[1528.3,870.3],"nice":false},"axis":null},
     "text":{"field":"t","type":"nominal"}}},
  {"data":{"values":[{}]},"mark":{"type":"text","text":"Decreased","align":"left","baseline":"alphabetic","fontSize":25,"color":"#000"},
   "encoding":{
     "x":{"datum":1.176,"type":"quantitative","scale":{"type":"log","domain":[0.9,10000],"range":[247,911],"nice":false},"axis":null},
     "y":{"datum":6208,"type":"quantitative","scale":{"type":"log","domain":[1,10000],"range":[1528.3,870.3],"nice":false},"axis":null}}},
  {"data":{"values":[{}]},"mark":{"type":"text","text":"Increased","align":"right","baseline":"alphabetic","fontSize":25,"color":"#000"},
   "encoding":{
     "x":{"datum":8458,"type":"quantitative","scale":{"type":"log","domain":[0.9,10000],"range":[247,911],"nice":false},"axis":null},
     "y":{"datum":1.239,"type":"quantitative","scale":{"type":"log","domain":[1,10000],"range":[1528.3,870.3],"nice":false},"axis":null}}},
  {"data":{"values":[{}]},"mark":{"type":"text","text":"Cases of P. vivax","align":"center","baseline":"middle","fontSize":32,"fontStyle":"italic","color":"#000"},
   "encoding":{
     "x":{"datum":106.2,"type":"quantitative","scale":{"type":"log","domain":[0.9,10000],"range":[247,911],"nice":false},"axis":null},
     "y":{"datum":14390,"type":"quantitative","scale":{"type":"log","domain":[1,10000],"range":[1528.3,870.3],"nice":false},"axis":null}}},
  {"data":{"name":"legB"},"transform":[{"filter":"datum.kind == 'ring'"}],
   "mark":{"type":"point","filled":false,"size":85,"strokeWidth":2.6,"opacity":1},
   "encoding":{
     "x":{"datum":1543,"type":"quantitative","scale":{"type":"log","domain":[0.9,10000],"range":[247,911],"nice":false},"axis":null},
     "y":{"field":"label","type":"nominal","scale":{"type":"point","domain":["Vietnam border","Laos border","Thai border","Legend","West","Other"],"range":[1357.7,1475.3],"padding":0},"axis":null},
     "color":{"field":"label","type":"nominal","scale":{"domain":["Vietnam border","Laos border","Thai border"],"range":["#a9dda9","#9b9bd8","#0fb40f"]},"legend":null}}},
  {"data":{"name":"legB"},"transform":[{"filter":"datum.kind == 'fill'"}],
   "mark":{"type":"point","filled":true,"size":115,"strokeWidth":0,"opacity":1},
   "encoding":{
     "x":{"datum":1543,"type":"quantitative","scale":{"type":"log","domain":[0.9,10000],"range":[247,911],"nice":false},"axis":null},
     "y":{"field":"label","type":"nominal","scale":{"type":"point","domain":["Vietnam border","Laos border","Thai border","Legend","West","Other"],"range":[1357.7,1475.3],"padding":0},"axis":null},
     "color":{"field":"label","type":"nominal","scale":{"domain":["Legend","West","Other"],"range":["#ff0000","#0000ff","#000000"]},"legend":null}}},
  {"data":{"name":"legB"},"transform":[{"filter":"datum.label != 'Other'"}],
   "mark":{"type":"text","align":"left","baseline":"middle","fontSize":14.5,"color":"#000"},
   "encoding":{
     "x":{"datum":2327,"type":"quantitative","scale":{"type":"log","domain":[0.9,10000],"range":[247,911],"nice":false},"axis":null},
     "y":{"field":"label","type":"nominal","scale":{"type":"point","domain":["Vietnam border","Laos border","Thai border","Legend","West","Other"],"range":[1357.7,1475.3],"padding":0},"axis":null},
     "text":{"field":"label","type":"nominal"}}},
  {"data":{"name":"legB"},"transform":[{"filter":"datum.label == 'Other'"}],
   "mark":{"type":"text","align":"left","baseline":"middle","fontSize":14.5,"fontWeight":"bold","color":"#000"},
   "encoding":{
     "x":{"datum":2327,"type":"quantitative","scale":{"type":"log","domain":[0.9,10000],"range":[247,911],"nice":false},"axis":null},
     "y":{"field":"label","type":"nominal","scale":{"type":"point","domain":["Vietnam border","Laos border","Thai border","Legend","West","Other"],"range":[1357.7,1475.3],"padding":0},"axis":null},
     "text":{"field":"label","type":"nominal"}}},

  {"data":{"name":"od"},"mark":{"type":"text","align":"center","baseline":"middle","font":"Lato","fontSize":13.5,"color":"#000"},
   "encoding":{
     "x":{"datum":0.186,"type":"quantitative","scale":{"type":"linear","domain":[0,1],"range":[964.3,1149.3],"nice":false,"zero":false},"axis":null},
     "y":{"field":"n","type":"quantitative","scale":{"type":"linear","domain":[1,77],"range":[79.3,1559.4],"nice":false,"zero":false},"axis":null},
     "text":{"field":"n","type":"nominal"}}},
  {"data":{"name":"od"},"mark":{"type":"text","align":"center","baseline":"middle","font":"Lato","fontSize":13.5,"color":"#000"},
   "encoding":{
     "x":{"datum":0.685,"type":"quantitative","scale":{"type":"linear","domain":[0,1],"range":[964.3,1149.3],"nice":false,"zero":false},"axis":null},
     "y":{"field":"n","type":"quantitative","scale":{"type":"linear","domain":[1,77],"range":[79.3,1559.4],"nice":false,"zero":false},"axis":null},
     "text":{"field":"name","type":"nominal"}}},
  {"data":{"values":[{}]},"mark":{"type":"text","text":"Number","align":"center","baseline":"middle","font":"Lato","fontSize":13.5,"color":"#000"},
   "encoding":{
     "x":{"datum":0.186,"type":"quantitative","scale":{"type":"linear","domain":[0,1],"range":[964.3,1149.3],"nice":false,"zero":false},"axis":null},
     "y":{"datum":0.01,"type":"quantitative","scale":{"type":"linear","domain":[1,77],"range":[79.3,1559.4],"nice":false,"zero":false},"axis":null}}},
  {"data":{"values":[{}]},"mark":{"type":"text","text":"OD","align":"center","baseline":"middle","font":"Lato","fontSize":13.5,"color":"#000"},
   "encoding":{
     "x":{"datum":0.685,"type":"quantitative","scale":{"type":"linear","domain":[0,1],"range":[964.3,1149.3],"nice":false,"zero":false},"axis":null},
     "y":{"datum":0.01,"type":"quantitative","scale":{"type":"linear","domain":[1,77],"range":[79.3,1559.4],"nice":false,"zero":false},"axis":null}}},
  {"data":{"values":[{}]},"mark":{"type":"rule","strokeWidth":2,"color":"#000"},
   "encoding":{
     "x":{"datum":0,"type":"quantitative","scale":{"type":"linear","domain":[0,1],"range":[964.3,1149.3],"nice":false,"zero":false},"axis":null},
     "x2":{"datum":1},
     "y":{"datum":-0.57,"type":"quantitative","scale":{"type":"linear","domain":[1,77],"range":[79.3,1559.4],"nice":false,"zero":false},"axis":null}}},
  {"data":{"values":[{}]},"mark":{"type":"rule","strokeWidth":1.3,"color":"#000"},
   "encoding":{
     "x":{"datum":0,"type":"quantitative","scale":{"type":"linear","domain":[0,1],"range":[964.3,1149.3],"nice":false,"zero":false},"axis":null},
     "x2":{"datum":1},
     "y":{"datum":0.456,"type":"quantitative","scale":{"type":"linear","domain":[1,77],"range":[79.3,1559.4],"nice":false,"zero":false},"axis":null}}},
  {"data":{"values":[{}]},"mark":{"type":"rule","strokeWidth":2,"color":"#000"},
   "encoding":{
     "x":{"datum":0,"type":"quantitative","scale":{"type":"linear","domain":[0,1],"range":[964.3,1149.3],"nice":false,"zero":false},"axis":null},
     "x2":{"datum":1},
     "y":{"datum":78.42,"type":"quantitative","scale":{"type":"linear","domain":[1,77],"range":[79.3,1559.4],"nice":false,"zero":false},"axis":null}}},

  {"data":{"name":"capBold"},"mark":{"type":"text","align":"left","baseline":"middle","font":"Open Sans","fontSize":17.5,"fontWeight":"bold","color":"#000"},
   "encoding":{
     "x":{"field":"col","type":"quantitative","scale":{"type":"linear","domain":[0,141],"range":[13,1255],"nice":false,"zero":false},"axis":null},
     "y":{"field":"line","type":"quantitative","scale":{"type":"linear","domain":[1,3],"range":[1646.8,1691.5],"nice":false,"zero":false},"axis":null},
     "text":{"field":"t","type":"nominal"}}},
  {"data":{"name":"capBoldItalic"},"mark":{"type":"text","align":"left","baseline":"middle","font":"Open Sans","fontSize":17.5,"fontWeight":"bold","fontStyle":"italic","color":"#000"},
   "encoding":{
     "x":{"field":"col","type":"quantitative","scale":{"type":"linear","domain":[0,141],"range":[13,1255],"nice":false,"zero":false},"axis":null},
     "y":{"field":"line","type":"quantitative","scale":{"type":"linear","domain":[1,3],"range":[1646.8,1691.5],"nice":false,"zero":false},"axis":null},
     "text":{"field":"t","type":"nominal"}}},
  {"data":{"name":"capNormal"},"mark":{"type":"text","align":"left","baseline":"middle","font":"Open Sans","fontSize":15.8,"color":"#222"},
   "encoding":{
     "x":{"field":"col","type":"quantitative","scale":{"type":"linear","domain":[0,141],"range":[13,1255],"nice":false,"zero":false},"axis":null},
     "y":{"field":"line","type":"quantitative","scale":{"type":"linear","domain":[1,3],"range":[1646.8,1691.5],"nice":false,"zero":false},"axis":null},
     "text":{"field":"t","type":"nominal"}}},
  {"data":{"name":"capItalic"},"mark":{"type":"text","align":"left","baseline":"middle","font":"Open Sans","fontSize":15.8,"fontStyle":"italic","color":"#222"},
   "encoding":{
     "x":{"field":"col","type":"quantitative","scale":{"type":"linear","domain":[0,141],"range":[13,1255],"nice":false,"zero":false},"axis":null},
     "y":{"field":"line","type":"quantitative","scale":{"type":"linear","domain":[1,3],"range":[1646.8,1691.5],"nice":false,"zero":false},"axis":null},
     "text":{"field":"t","type":"nominal"}}}
]
}
